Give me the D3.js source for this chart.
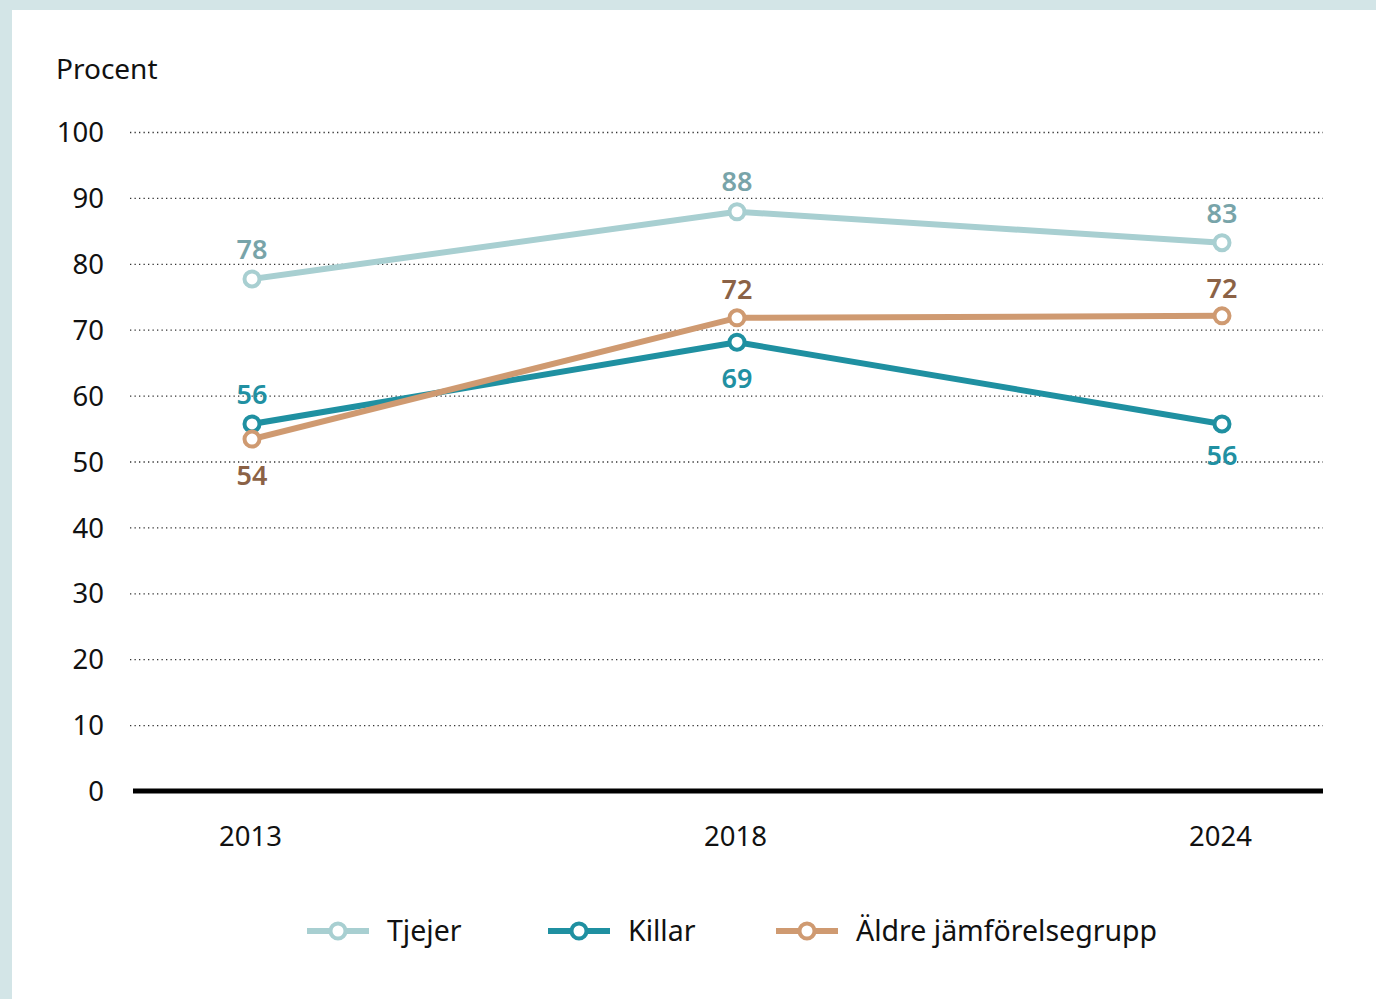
<!DOCTYPE html>
<html><head><meta charset="utf-8">
<script src="https://cdn.jsdelivr.net/npm/d3@7"></script>
<style>
html,body{margin:0;padding:0;background:#d3e5e7;}
svg{display:block;font-family:"Noto Sans","Open Sans",sans-serif;}
</style></head>
<body>
<svg id="c" width="1376" height="999"></svg>
<script>
const years = ["2013","2018","2024"];
const tjejer = [77.7, 87.9, 83.2];
const killar = [55.7, 68.1, 55.7];
const aldre = [53.4, 71.8, 72.1];
const tjejerLabels = ["78","88","83"];
const killarLabels = ["56","69","56"];
const aldreLabels = ["54","72","72"];
const yTicks = [0,10,20,30,40,50,60,70,80,90,100];
const seriesNames = ["Tjejer","Killar","Äldre jämförelsegrupp"];

const series = [
  {name:seriesNames[0], values:tjejer, labels:tjejerLabels, color:"#a8cfd1", label:"#78a4a9", pos:[-29,-30,-29]},
  {name:seriesNames[1], values:killar, labels:killarLabels, color:"#1f90a1", label:"#2190a2", pos:[-29,36,32]},
  {name:seriesNames[2], values:aldre, labels:aldreLabels, color:"#cf9a71", label:"#8b6246", pos:[36,-28,-27]}
];

const svg = d3.select("#c");
svg.append("rect").attr("x",0).attr("y",0).attr("width",1376).attr("height",999).attr("fill","#d3e5e7");
svg.append("rect").attr("x",12).attr("y",10).attr("width",1364).attr("height",989).attr("fill","#ffffff");

const x = d3.scalePoint().domain(years).range([252,1222]);
const y = d3.scaleLinear().domain([0,100]).range([791,132]);

const gx0 = 130, gx1 = 1323;
const grid = svg.append("g").attr("transform",`translate(${gx0},0)`)
  .call(d3.axisLeft(y).tickValues(yTicks.filter(d=>d>0)).tickSize(-(gx1-gx0)).tickFormat(""));
grid.select(".domain").remove();
grid.selectAll("line").attr("stroke","#333").attr("stroke-width",1.3).attr("stroke-dasharray","1.3,3.2");

const yl = svg.append("g").attr("transform","translate(104,0)")
  .call(d3.axisLeft(y).tickValues(yTicks).tickSize(0).tickPadding(0));
yl.select(".domain").remove();
yl.selectAll("text").attr("font-size",27.5).attr("fill","#111").attr("font-family","'Noto Sans',sans-serif").attr("dy","0.35em");

svg.append("line").attr("x1",133).attr("x2",1323).attr("y1",y(0)).attr("y2",y(0))
  .attr("stroke","#000").attr("stroke-width",5);

const xl = svg.append("g").attr("transform","translate(-2,836)")
  .call(d3.axisBottom(x).tickSize(0).tickPadding(0));
xl.select(".domain").remove();
xl.selectAll("text").attr("font-size",27.5).attr("fill","#111").attr("font-family","'Noto Sans',sans-serif").attr("dy","0.35em");

svg.append("text").attr("x",56).attr("y",79).attr("font-size",28).attr("fill","#111").text("Procent");

const line = d3.line().x((d,i)=>x(years[i])).y(d=>y(d));
series.forEach(s=>{
  svg.append("path").attr("d",line(s.values)).attr("fill","none")
    .attr("stroke",s.color).attr("stroke-width",6).attr("stroke-linejoin","round");
});
series.forEach(s=>{
  s.values.forEach((v,i)=>{
    svg.append("circle").attr("cx",x(years[i])).attr("cy",y(v)).attr("r",7.5)
      .attr("fill","#fff").attr("stroke",s.color).attr("stroke-width",4);
    svg.append("text").attr("x",x(years[i])).attr("y",y(v)+s.pos[i])
      .attr("dy","0.35em").attr("text-anchor","middle").attr("font-size",27)
      .attr("font-weight",600).attr("fill",s.label).text(s.labels[i]);
  });
});

const legendX = [307,548,776];
series.forEach((s,i)=>{
  const g = svg.append("g").attr("transform",`translate(${legendX[i]},931)`);
  g.append("line").attr("x1",0).attr("x2",62).attr("stroke",s.color).attr("stroke-width",6);
  g.append("circle").attr("cx",31).attr("r",7.5).attr("fill","#fff").attr("stroke",s.color).attr("stroke-width",4);
  g.append("text").attr("x",80).attr("dy","0.35em").attr("font-size",28.5).attr("fill","#111").text(s.name);
});
</script>
</body></html>
